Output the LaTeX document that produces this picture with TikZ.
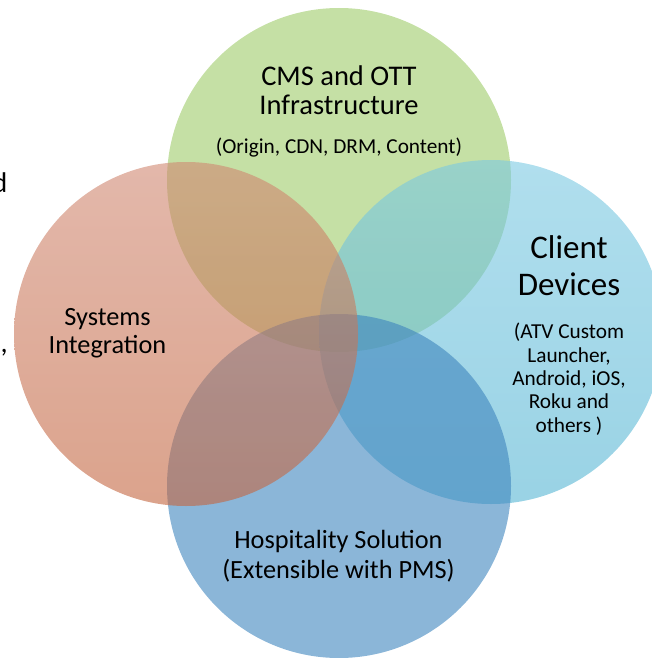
\documentclass[tikz,border=0pt]{standalone}
\usepackage{fontspec}
\setmainfont{Carlito}
\definecolor{vgreen}{HTML}{9ECB69}
\definecolor{vlbluetop}{HTML}{7CC9E2}
\definecolor{vlbluebot}{HTML}{55B5D3}
\definecolor{vblue}{HTML}{3E85BE}
\definecolor{vredtop}{HTML}{D08872}
\definecolor{vredbot}{HTML}{C3653F}
\begin{document}
\begin{tikzpicture}[x=1pt,y=-1pt,
  venn/.style={circle, draw=none, fill opacity=0.6, minimum size=344pt, inner sep=0pt},
  big/.style={font=\fontsize{28.5}{29}\selectfont, anchor=base, inner sep=0pt},
  huge/.style={font=\fontsize{33}{37}\selectfont, anchor=base, inner sep=0pt},
  mid/.style={font=\fontsize{26.3}{28}\selectfont, anchor=base, inner sep=0pt},
  small/.style={font=\fontsize{21.3}{24}\selectfont, anchor=base, inner sep=0pt}]
\useasboundingbox (0,0) rectangle (652,658);
\clip (0,0) rectangle (652,658);
% circles
\node[venn, fill=vgreen] (cTop) at (339,180) {};
\node[venn, top color=vlbluetop, bottom color=vlbluebot] (cRight) at (491,332) {};
\node[venn, fill=vblue] (cBottom) at (339,486) {};
\node[venn, top color=vredtop, bottom color=vredbot] (cLeft) at (186,334) {};
% top texts
\node[big] (t1) at (339,86) {CMS and OTT};
\node[big] (t2) at (339,115) {Infrastructure};
\node[small] (t3) at (339,153) {(Origin, CDN, DRM, Content)};
% right texts
\node[huge] (r1) at (569,258) {Client};
\node[huge] (r2) at (569,295) {Devices};
\node[small] (r3) at (569,338) {(ATV Custom};
\node[small] (r4) at (569,362) {Launcher,};
\node[small] (r5) at (569,385) {Android, iOS,};
\node[small] (r6) at (569,408) {Roku and};
\node[small] (r7) at (569,432) {others )};
% left texts
\node[mid] (l1) at (107.5,325) {Systems};
\node[mid] (l2) at (107.5,353) {Integration};
% bottom texts
\node[mid] (b1) at (338.5,548) {Hospitality Solution};
\node[mid] (b2) at (338.5,578) {(Extensible with PMS)};
% cropped fragments at left edge
\node[big, anchor=base east] (f1) at (7.5,192) {d};
\node[big, anchor=base east] (f2) at (8,352) {t,};
\end{tikzpicture}
\end{document}
